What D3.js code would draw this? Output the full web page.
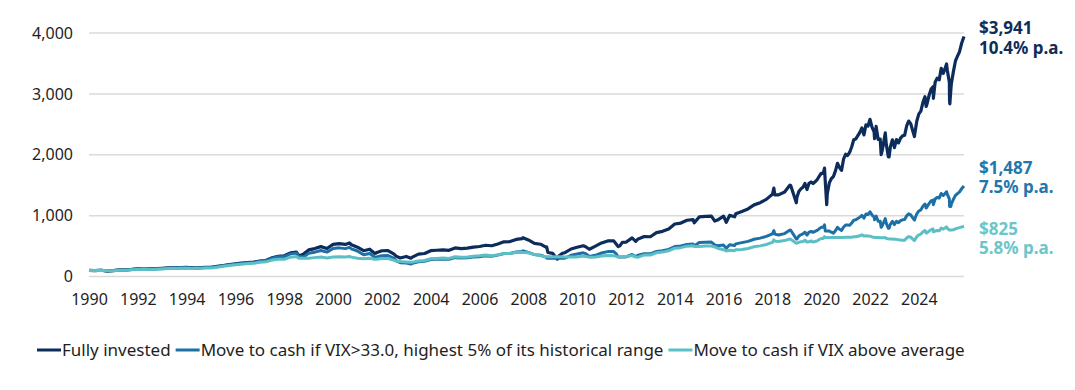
<!DOCTYPE html>
<html>
<head>
<meta charset="utf-8">
<script src="https://cdn.jsdelivr.net/npm/d3@7"></script>
<style>
  body { margin: 0; background: #ffffff; }
  svg text { font-family: "Noto Sans", "Open Sans", sans-serif; }
</style>
</head>
<body>
<svg id="chart" width="1075" height="390"></svg>
<script>
// ---------------- DATA ----------------
const dates = [
  1990,1990.25,1990.5,1990.75,
  1991,1991.25,1991.5,1991.75,
  1992,1992.25,1992.5,1992.75,
  1993,1993.25,1993.5,1993.75,
  1994,1994.25,1994.5,1994.75,
  1995,1995.25,1995.5,1995.75,
  1996,1996.25,1996.5,1996.75,
  1997,1997.25,1997.5,1997.75,
  1998,1998.25,1998.5,1998.6,1998.75,1998.8,
  1999,1999.25,1999.5,1999.75,
  2000,2000.25,2000.5,2000.67,2000.75,
  2001,2001.25,2001.5,2001.7,2001.75,2001.8,
  2002,2002.25,2002.5,2002.58,2002.75,
  2003,2003.19,2003.25,2003.5,2003.75,
  2004,2004.25,2004.5,2004.75,
  2005,2005.25,2005.5,2005.75,
  2006,2006.25,2006.5,2006.75,
  2007,2007.25,2007.5,2007.75,2007.78,
  2008,2008.25,2008.5,2008.72,2008.75,2008.8,
  2009,2009.19,2009.25,2009.4,2009.5,2009.75,
  2010,2010.25,2010.35,2010.5,2010.75,
  2011,2011.25,2011.5,2011.6,2011.68,2011.75,2011.85,
  2012,2012.25,2012.4,2012.5,2012.75,
  2013,2013.25,2013.5,2013.75,
  2014,2014.25,2014.5,2014.75,2014.8,
  2015,2015.25,2015.5,2015.64,2015.75,
  2016,2016.11,2016.25,2016.45,2016.5,2016.75,
  2017,2017.25,2017.5,2017.75,
  2018,2018.06,2018.1,2018.25,2018.5,2018.72,2018.75,2018.98,
  2019,2019.083,2019.167,2019.25,2019.333,2019.417,2019.5,2019.583,2019.667,2019.75,2019.833,2019.917,
  2020,2020.083,2020.135,2020.167,2020.225,2020.25,2020.333,2020.417,2020.5,2020.583,2020.667,2020.75,2020.833,2020.917,
  2021,2021.083,2021.167,2021.25,2021.333,2021.417,2021.5,2021.583,2021.667,2021.75,2021.833,2021.917,
  2022,2022.083,2022.167,2022.185,2022.25,2022.333,2022.417,2022.455,2022.5,2022.583,2022.625,2022.667,2022.75,2022.78,2022.833,2022.917,
  2023,2023.083,2023.167,2023.25,2023.333,2023.417,2023.5,2023.583,2023.667,2023.75,2023.82,2023.833,2023.917,
  2024,2024.083,2024.167,2024.25,2024.3,2024.333,2024.417,2024.5,2024.583,2024.595,2024.667,2024.75,2024.833,2024.917,
  2025,2025.083,2025.135,2025.167,2025.25,2025.258,2025.27,2025.31,2025.333,2025.417,2025.5,2025.583,2025.667,2025.75,2025.85
];

const fullyInvested = [
  100,97.0,103.1,88.9,
  96.7,110.7,110.3,116.1,
  125.8,122.7,124.8,128.7,
  135.3,141.2,141.8,145.4,
  148.9,143.3,143.7,150.7,
  150.6,165.3,181.0,195.5,
  207.4,218.5,228.3,235.1,
  254.9,261.6,307.3,330.3,
  340.0,387.3,400.1,338.0,360.1,372.0,
  436.9,458.6,490.7,459.9,
  528.5,540.7,526.4,551.0,521.5,
  480.8,423.9,448.7,381.0,382.6,395.5,
  423.3,424.7,367.8,335.0,304.3,
  329.6,301.0,319.2,368.1,377.9,
  423.5,430.9,438.4,429.9,
  469.5,459.4,465.5,482.6,
  492.4,513.0,505.4,534.1,
  569.5,573.4,609.2,621.7,637.7,
  600.8,544.6,530.3,481.0,486.2,395.0,
  378.8,284.9,336.6,381.0,390.5,451.7,
  479.3,505.3,488.7,447.4,497.9,
  551.2,584.1,585.2,533.5,490.0,503.9,560.0,
  563.0,634.1,577.5,616.7,655.6,
  652.6,721.6,742.3,780.9,
  862.5,877.9,923.5,933.1,881.5,
  978.8,988.3,991.3,911.0,927.4,
  992.5,890.0,1005.4,981.0,1029.9,1069.5,
  1109.9,1176.7,1212.4,1266.9,
  1350.4,1452.0,1339.6,1340.6,1386.9,1502.0,1494.1,1211.0,
  1291.8,1395.6,1439.3,1467.4,1527.4,1429.2,1530.0,1552.5,1526.8,1555.3,1589.6,1646.2,
  1695.9,1695.6,1781.5,1555.4,1179.1,1362.9,1538.1,1610.1,1642.2,1735.3,1859.7,1789.5,1742.6,1932.8,
  2007.6,1987.5,2041.7,2131.1,2245.3,2260.1,2312.9,2368.2,2440.0,2326.5,2490.1,2472.1,
  2582.8,2450.6,2377.2,2265.0,2465.5,2251.9,2255.3,2002.8,2069.1,2260.9,2358.4,2167.7,1968.2,1964.1,2128.4,2246.1,
  2116.3,2249.9,2194.3,2274.1,2310.3,2319.4,2472.6,2552.9,2511.2,2391.9,2298.7,2342.2,2554.7,
  2671.1,2716.5,2860.1,2952.4,2792.6,2832.6,2971.7,3078.1,3116.3,2927.2,3191.3,3259.3,3230.4,3419.2,
  3337.2,3430.4,3490.5,3385.1,3193.2,2887.0,2835.7,3060.0,3171.6,3369.7,3540.6,3620.4,3692.7,3827.1,3941.0
];

const cashIfVix33 = [
  100,97.0,103.1,88.9,
  96.7,108.5,108.1,113.8,
  123.3,120.2,122.3,126.1,
  132.6,138.4,139.0,142.5,
  145.9,140.4,140.8,147.7,
  147.6,162.0,177.4,191.6,
  203.3,214.1,223.7,230.4,
  249.8,256.4,301.2,323.7,
  326.4,371.8,384.1,324.5,324.5,324.5,
  381.0,399.9,427.9,401.0,
  459.8,470.4,458.0,479.4,453.7,
  418.3,356.1,376.9,320.0,320.0,320.0,
  342.9,344.0,297.9,262.0,226.0,
  222.0,205.0,215.0,242.9,249.4,
  279.5,284.4,289.3,283.7,
  309.9,303.2,307.2,318.5,
  325.0,338.6,333.6,352.5,
  375.9,378.4,402.1,410.3,420.9,
  396.5,359.4,350.0,317.5,305.0,300.0,
  300.0,300.0,300.0,300.0,300.7,347.8,
  369.1,389.1,376.0,330.0,348.5,
  385.8,408.9,409.6,373.5,320.0,320.0,320.0,
  320.9,361.4,329.2,351.5,373.7,
  372.0,411.3,423.1,445.1,
  491.6,500.4,526.4,531.9,502.5,
  557.9,563.3,565.0,519.3,505.0,
  516.1,462.8,522.8,510.1,535.5,556.1,
  577.1,611.9,630.4,658.8,
  702.2,755.0,696.6,681.0,704.5,763.0,759.0,615.2,
  615.2,664.3,685.1,698.5,727.0,680.3,728.3,739.0,726.8,740.3,756.6,783.6,
  807.3,807.1,848.0,745.9,745.9,745.9,745.9,727.6,712.4,752.8,806.9,776.3,756.2,813.3,
  844.7,844.1,841.0,877.9,924.9,930.9,952.8,975.5,1005.1,958.4,1025.7,1018.3,
  1063.9,1009.5,979.3,933.0,993.7,907.6,909.0,807.2,834.0,911.3,950.5,873.7,793.3,791.7,857.9,905.3,
  853.0,906.9,884.5,916.6,931.2,934.9,996.6,1029.0,1012.1,964.1,926.5,944.0,1029.7,
  1076.6,1094.9,1152.8,1190.0,1125.6,1141.7,1197.8,1240.6,1256.0,1179.8,1273.2,1300.3,1288.7,1364.1,
  1331.4,1368.5,1392.5,1350.4,1273.9,1151.8,1151.8,1151.8,1193.8,1268.4,1332.7,1362.7,1390.0,1440.5,1487.0
];

const cashIfVixAboveAvg = [
  100,97.0,103.1,95.0,
  95.8,104.0,103.6,109.1,
  116.0,113.2,115.1,118.7,
  124.8,130.2,130.8,134.1,
  137.3,133.0,133.5,140.0,
  139.9,153.6,168.2,181.7,
  192.7,203.0,212.1,216.0,
  234.2,240.3,270.0,285.0,
  282.0,318.0,328.0,300.0,300.0,300.0,
  300.0,310.0,320.0,305.0,
  320.0,325.0,320.0,330.0,318.0,
  300.0,290.0,300.0,285.0,285.0,285.0,
  295.0,295.0,265.0,255.0,245.0,
  240.0,233.0,236.0,255.0,262.0,
  292.0,297.0,302.0,297.0,
  324.0,317.0,321.0,333.0,
  340.0,354.0,340.0,355.0,
  378.0,378.0,398.0,395.0,395.0,
  390.0,360.0,340.0,325.0,325.0,325.0,
  325.0,325.0,325.0,325.0,322.0,320.0,
  322.0,335.0,330.0,318.0,320.0,
  335.0,345.0,342.0,330.0,325.0,325.0,325.0,
  328.0,345.0,320.0,318.0,354.0,
  352.4,389.7,400.8,421.7,
  465.8,474.1,498.7,503.9,494.0,
  494.3,499.1,500.6,485.0,465.0,
  440.0,420.0,430.0,425.0,440.0,444.0,
  460.6,488.3,503.1,525.8,
  560.4,602.6,581.0,575.0,590.0,615.0,610.0,548.0,
  548.0,560.0,570.0,575.0,597.0,565.0,570.0,585.0,565.0,575.0,585.0,607.0,
  625.0,625.0,655.0,640.0,640.0,640.0,640.0,640.0,640.0,640.0,642.0,642.0,642.0,642.0,
  643.0,643.0,643.0,643.0,655.0,652.0,662.0,670.0,684.0,665.0,668.0,665.0,
  662.0,650.0,645.0,642.0,642.0,640.0,638.0,635.0,635.0,635.0,640.0,625.0,618.0,616.0,616.0,615.0,
  612.0,610.0,605.0,598.0,595.0,595.0,634.0,655.0,645.0,615.0,590.0,600.0,655.0,
  685.0,697.0,733.0,757.0,716.0,716.0,745.0,770.0,780.0,735.0,745.0,755.0,750.0,795.0,
  780.0,800.0,815.0,790.0,765.0,765.0,765.0,765.0,765.0,768.0,782.0,795.0,803.0,812.0,825.0
];

const seriesNames = [
  "Fully invested",
  "Move to cash if VIX>33.0, highest 5% of its historical range",
  "Move to cash if VIX above average"
];
const endValueLabels = ["$3,941", "$1,487", "$825"];
const endReturnLabels = ["10.4% p.a.", "7.5% p.a.", "5.8% p.a."];
const yTickValues = [0, 1000, 2000, 3000, 4000];
const xTickValues = [1990,1992,1994,1996,1998,2000,2002,2004,2006,2008,2010,2012,2014,2016,2018,2020,2022,2024];

// ---------------- STYLE ----------------
const lineColors  = ["#0c2c5c", "#1c70a6", "#5cbfc5"];
const labelColors = ["#0f2d58", "#2277ab", "#6cc6c9"];
const labelOffsets = [-2.5, -12, 8.5];   // baseline shift of first label line vs. end point

const svg = d3.select("#chart");
const x = d3.scaleLinear().domain([1990, dates[dates.length - 1]]).range([89, 964]);
const y = d3.scaleLinear().domain([0, 4000]).range([276.5, 33]);

// gridlines
svg.append("g").selectAll("line").data(yTickValues).join("line")
  .attr("x1", x.range()[0]).attr("x2", x.range()[1])
  .attr("y1", d => y(d)).attr("y2", d => y(d))
  .attr("stroke", "#dadada").attr("stroke-width", 1.5);

// y axis
const yAxis = svg.append("g").attr("transform", "translate(73,0)")
  .call(d3.axisLeft(y).tickValues(yTickValues).tickFormat(d3.format(",")).tickSize(0).tickPadding(0));
yAxis.select(".domain").remove();
yAxis.selectAll("text").attr("font-size", 16).attr("fill", "#1e1e1e")
  .style("font-family", "'Noto Sans','Open Sans',sans-serif");

// x axis
const xAxis = svg.append("g").attr("transform", "translate(0,293.5)")
  .call(d3.axisBottom(x).tickValues(xTickValues).tickFormat(d => String(d)).tickSize(0).tickPadding(0));
xAxis.select(".domain").remove();
xAxis.selectAll("text").attr("font-size", 16).attr("fill", "#1e1e1e")
  .style("font-family", "'Noto Sans','Open Sans',sans-serif");

// lines
const series = [fullyInvested, cashIfVix33, cashIfVixAboveAvg];
const line = d3.line().x((d, i) => x(dates[i])).y(d => y(d)).curve(d3.curveLinear);
series.forEach((vals, k) => {
  svg.append("path").datum(vals)
    .attr("fill", "none")
    .attr("stroke", lineColors[k])
    .attr("stroke-width", k === 0 ? 3.2 : 3)
    .attr("stroke-linejoin", "round")
    .attr("d", line);
});

// end labels
series.forEach((vals, k) => {
  const yy = y(vals[vals.length - 1]) + labelOffsets[k];
  const t = svg.append("text").attr("x", 979).attr("y", yy)
    .attr("font-size", 17).attr("font-weight", 700).attr("fill", labelColors[k]);
  t.append("tspan").attr("x", 979).attr("dy", 0).text(endValueLabels[k]);
  t.append("tspan").attr("x", 979).attr("dy", 19.5).text(endReturnLabels[k]);
});

// legend
const legend = svg.append("g");
let lx = 37;
const ly = 350;
seriesNames.forEach((name, k) => {
  legend.append("line").attr("x1", lx).attr("x2", lx + 24).attr("y1", ly).attr("y2", ly)
    .attr("stroke", lineColors[k]).attr("stroke-width", 3);
  const t = legend.append("text").attr("x", lx + 25).attr("y", ly).attr("dy", "0.35em")
    .attr("font-size", 17).attr("fill", "#1e1e1e").text(name);
  lx += 25 + t.node().getComputedTextLength() + 5;
});
</script>
</body>
</html>
